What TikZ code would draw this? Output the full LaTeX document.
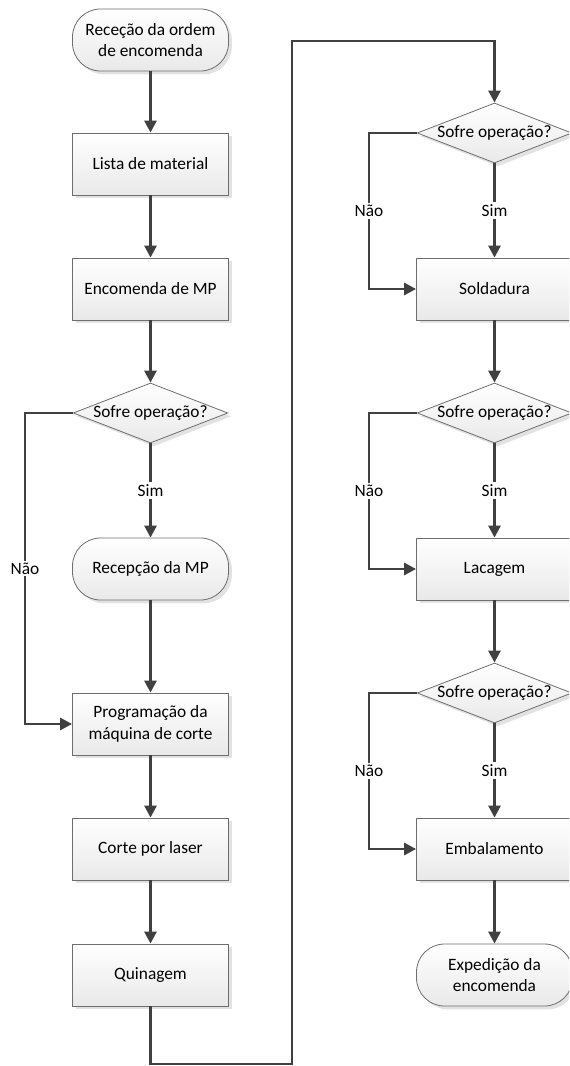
\documentclass[tikz,border=0pt]{standalone}
\usepackage{fontspec}
\setmainfont{Carlito}
\usetikzlibrary{shapes.geometric,shadows,arrows.meta}

\definecolor{linegray}{HTML}{404040}
\definecolor{edgegray}{HTML}{6E6E6E}
\definecolor{fillbot}{HTML}{E9E9E9}

\tikzset{
  base/.style={draw=edgegray, line width=0.6pt, top color=white, bottom color=fillbot,
    align=center, font=\fontsize{13}{16}\selectfont,
    drop shadow={shadow xshift=2.5pt, shadow yshift=-2.5pt, fill=gray!45, opacity=0.5}},
  proc/.style={base, rectangle, minimum width=117pt, minimum height=46.5pt, inner sep=0pt},
  term/.style={base, rectangle, rounded corners=21pt, minimum width=117pt, minimum height=46.5pt, inner sep=0pt},
  dec/.style={base, diamond, minimum width=116pt, minimum height=45pt, inner sep=0pt},
  dectext/.style={font=\fontsize{13}{16}\selectfont, inner sep=0pt},
  flow/.style={draw=linegray, line width=2.1pt, -{Triangle[width=9pt,length=9pt]}},
  lbl/.style={fill=white, inner sep=1.5pt, font=\fontsize{13}{16}\selectfont}
}

\begin{document}
\begin{tikzpicture}[x=0.75pt,y=-0.75pt]
  \clip (0,0) rectangle (569,1066);

  % left column
  \node[term] (start) at (150.5,40)  {Receção da ordem\\de encomenda};
  \node[proc] (lista) at (150.5,164) {Lista de material};
  \node[proc] (enc)   at (150.5,289) {Encomenda de MP};
  \node[dec]  (dl)    at (150.5,413) {};
  \node[dectext] (dlt) at (dl) {Sofre operação?};
  \node[term] (recmp) at (150.5,569) {Recepção da MP};
  \node[proc] (prog)  at (150.5,724) {Programação da\\máquina de corte};
  \node[proc] (corte) at (150.5,849) {Corte por laser};
  \node[proc] (quin)  at (150.5,975) {Quinagem};

  % right column
  \node[dec]  (dr1)   at (494.5,133) {};
  \node[dectext] (dr1t) at (dr1) {Sofre operação?};
  \node[proc] (sold)  at (494.5,289) {Soldadura};
  \node[dec]  (dr2)   at (494.5,413) {};
  \node[dectext] (dr2t) at (dr2) {Sofre operação?};
  \node[proc] (lac)   at (494.5,569) {Lacagem};
  \node[dec]  (dr3)   at (494.5,693) {};
  \node[dectext] (dr3t) at (dr3) {Sofre operação?};
  \node[proc] (emb)   at (494.5,849) {Embalamento};
  \node[term] (exped) at (494.5,975) {Expedição da\\encomenda};

  % bend points of the side routes
  \coordinate (nl)  at (25,413);
  \coordinate (nr1) at (369,133);
  \coordinate (nr2) at (369,413);
  \coordinate (nr3) at (369,693);
  \coordinate (lb)  at (292,1064);
  \coordinate (lt)  at (292,41);

  % left column flow
  \draw[flow] (start) -- (lista);
  \draw[flow] (lista) -- (enc);
  \draw[flow] (enc) -- (dl);
  \draw[flow] (dl) -- node[lbl] {Sim} (recmp);
  \draw[flow] (dl.west) -- (nl) |- node[lbl, pos=0.25] {Não} (prog.west);
  \draw[flow] (recmp) -- (prog);
  \draw[flow] (prog) -- (corte);
  \draw[flow] (corte) -- (quin);

  % transfer to the right column
  \draw[flow] (quin.south) |- (lb) -- (lt) -| (dr1.north);

  % right column flow
  \draw[flow] (dr1) -- node[lbl] {Sim} (sold);
  \draw[flow] (dr1.west) -- (nr1) |- node[lbl, pos=0.25] {Não} (sold.west);
  \draw[flow] (sold) -- (dr2);
  \draw[flow] (dr2) -- node[lbl] {Sim} (lac);
  \draw[flow] (dr2.west) -- (nr2) |- node[lbl, pos=0.25] {Não} (lac.west);
  \draw[flow] (lac) -- (dr3);
  \draw[flow] (dr3) -- node[lbl] {Sim} (emb);
  \draw[flow] (dr3.west) -- (nr3) |- node[lbl, pos=0.25] {Não} (emb.west);
  \draw[flow] (emb) -- (exped);
\end{tikzpicture}
\end{document}
